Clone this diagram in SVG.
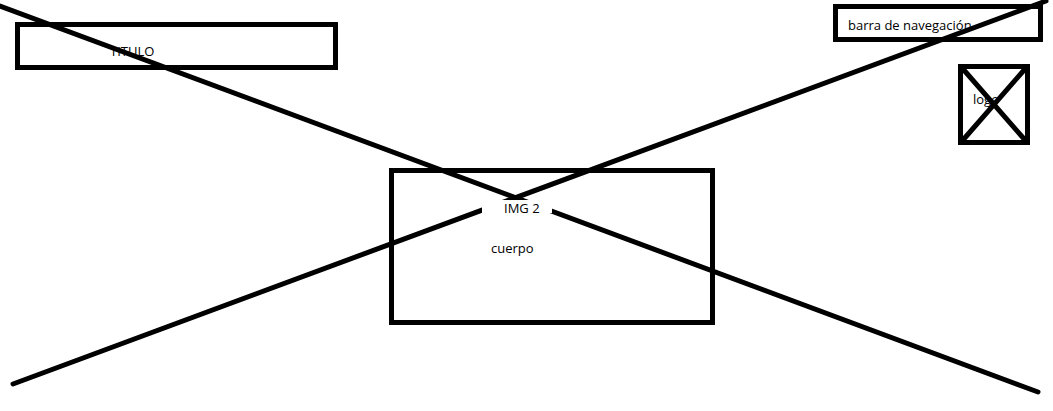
<svg xmlns="http://www.w3.org/2000/svg" width="1053" height="411" viewBox="0 0 1053 411">
<style>
.box{fill:none;stroke:#000;stroke-width:5}
.ln{stroke:#000;stroke-width:5;stroke-linecap:round}
.t{font-family:"Open Sans","Noto Sans",sans-serif;font-size:13px;fill:#000}
</style>
<rect width="1053" height="411" fill="#fff"/>
<g id="connectors">
<line class="ln" x1="0" y1="6" x2="1038" y2="392"/>
<line class="ln" x1="13" y1="384" x2="1046" y2="1"/>
</g>
<g id="titulo">
<rect class="box" x="17.5" y="24.5" width="318" height="43"/>
<text class="t" x="110" y="56">TITULO</text>
</g>
<g id="barra">
<rect class="box" x="835.5" y="6.5" width="205" height="33"/>
<text class="t" x="848" y="30">barra de navegación</text>
</g>
<g id="logo">
<rect class="box" x="960.5" y="66.5" width="67" height="76"/>
<line class="ln" x1="963" y1="69" x2="1025" y2="140" stroke-width="4"/>
<line class="ln" x1="1025" y1="69" x2="963" y2="140" stroke-width="4"/>
<text class="t" x="973" y="104">logo</text>
</g>
<g id="cuerpo">
<rect class="box" x="391.5" y="170.5" width="321" height="152"/>
<rect x="482" y="200" width="70" height="13" fill="#fff"/>
<text class="t" x="504" y="213">IMG 2</text>
<text class="t" x="491" y="253">cuerpo</text>
</g>
</svg>
